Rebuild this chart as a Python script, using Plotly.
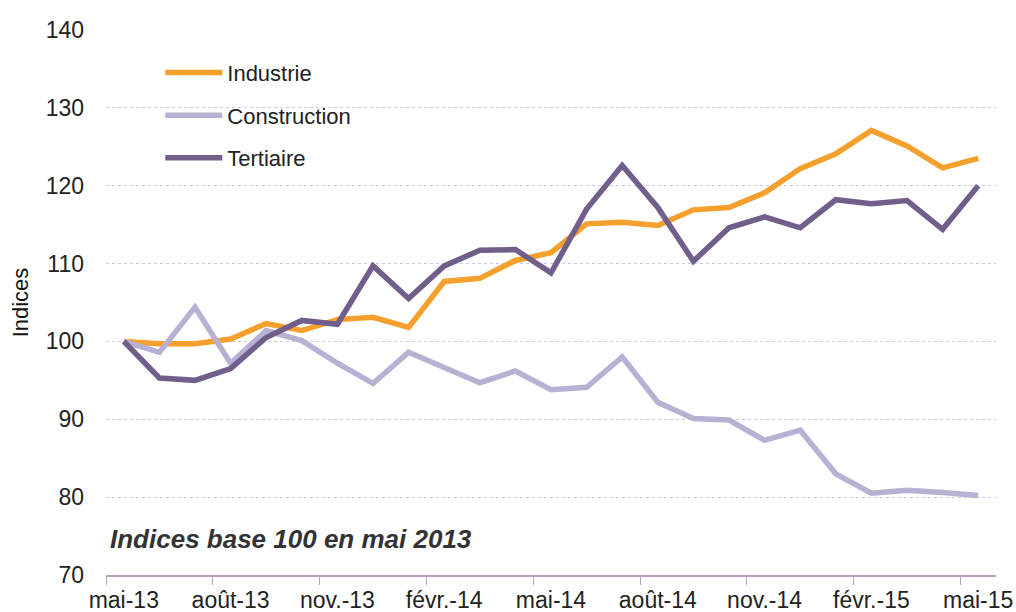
import plotly.graph_objects as go

months = ["mai-13", "juin-13", "juil.-13", "août-13", "sept.-13", "oct.-13", "nov.-13", "déc.-13",
          "janv.-14", "févr.-14", "mars-14", "avr.-14", "mai-14", "juin-14", "juil.-14", "août-14",
          "sept.-14", "oct.-14", "nov.-14", "déc.-14", "janv.-15", "févr.-15", "mars-15", "avr.-15", "mai-15"]

industrie = [100, 99.7, 99.7, 100.3, 102.3, 101.4, 102.8, 103.1, 101.8, 107.7, 108.1, 110.4, 111.4,
             115.1, 115.3, 114.9, 116.9, 117.2, 119.1, 122.2, 124.1, 127.1, 125.1, 122.3, 123.5]
construction = [100, 98.6, 104.4, 97.2, 101.4, 100.1, 97.2, 94.6, 98.6, 96.6, 94.7, 96.2, 93.8,
                94.1, 98.0, 92.2, 90.1, 89.9, 87.3, 88.6, 83.0, 80.5, 80.9, 80.6, 80.2]
tertiaire = [100, 95.3, 95.0, 96.5, 100.5, 102.7, 102.2, 109.7, 105.5, 109.7, 111.7, 111.8, 108.8,
             117.0, 122.6, 117.2, 110.3, 114.6, 116.0, 114.6, 118.2, 117.7, 118.1, 114.4, 120.0]

series = [("Industrie", industrie, "#F5A02C"),
          ("Construction", construction, "#B8B1D4"),
          ("Tertiaire", tertiaire, "#715E8B")]

font_fam = "Liberation Sans, Arial, sans-serif"

fig = go.Figure()
for name, vals, col in series:
    fig.add_trace(go.Scatter(x=months, y=vals, name=name, mode="lines",
                             line=dict(color=col, width=5.5), legendgroup=name))

fig.update_layout(
    width=1016, height=612,
    margin=dict(l=106, r=20, t=30, b=37),
    plot_bgcolor="white", paper_bgcolor="white",
    font=dict(family=font_fam, size=22, color="#222222"),
    showlegend=True,
    legend=dict(x=0.061, y=0.96, xanchor="left", yanchor="top",
                font=dict(family=font_fam, size=22, color="#222222"),
                bgcolor="rgba(0,0,0,0)", tracegroupgap=11, itemwidth=57),
    xaxis=dict(type="category", categoryorder="array", categoryarray=months,
               tickmode="linear", tick0=0, dtick=3, tickson="boundaries",
               ticks="outside", ticklen=8, tickcolor="#B9A0C2", tickwidth=1,
               showline=True, linecolor="#B9A0C2", linewidth=2,
               showgrid=False, range=[-0.5, 24.5], tickangle=0, automargin=False,
               ticklabelstandoff=3,
               tickfont=dict(family=font_fam, size=23, color="#222222")),
    yaxis=dict(range=[70, 140], tickmode="linear", tick0=70, dtick=10,
               showgrid=True, gridcolor="#CCC8E2", gridwidth=1, griddash="dot",
               zeroline=False, showline=False, ticks="", ticklabelstandoff=21,
               automargin=False,
               tickfont=dict(family=font_fam, size=23, color="#222222")),
)
fig.update_yaxes(title=dict(text="Indices", standoff=10,
                            font=dict(family=font_fam, size=22, color="#111111")))
fig.add_annotation(text="<b><i>Indices base 100 en mai 2013</i></b>",
                   xref="paper", yref="paper", x=0.002, y=0.066,
                   xanchor="left", yanchor="middle", showarrow=False,
                   font=dict(family=font_fam, size=26, color="#333333"))

fig.write_html("out.html", config={"displayModeBar": False},
               post_script="document.body.style.margin='0';")
